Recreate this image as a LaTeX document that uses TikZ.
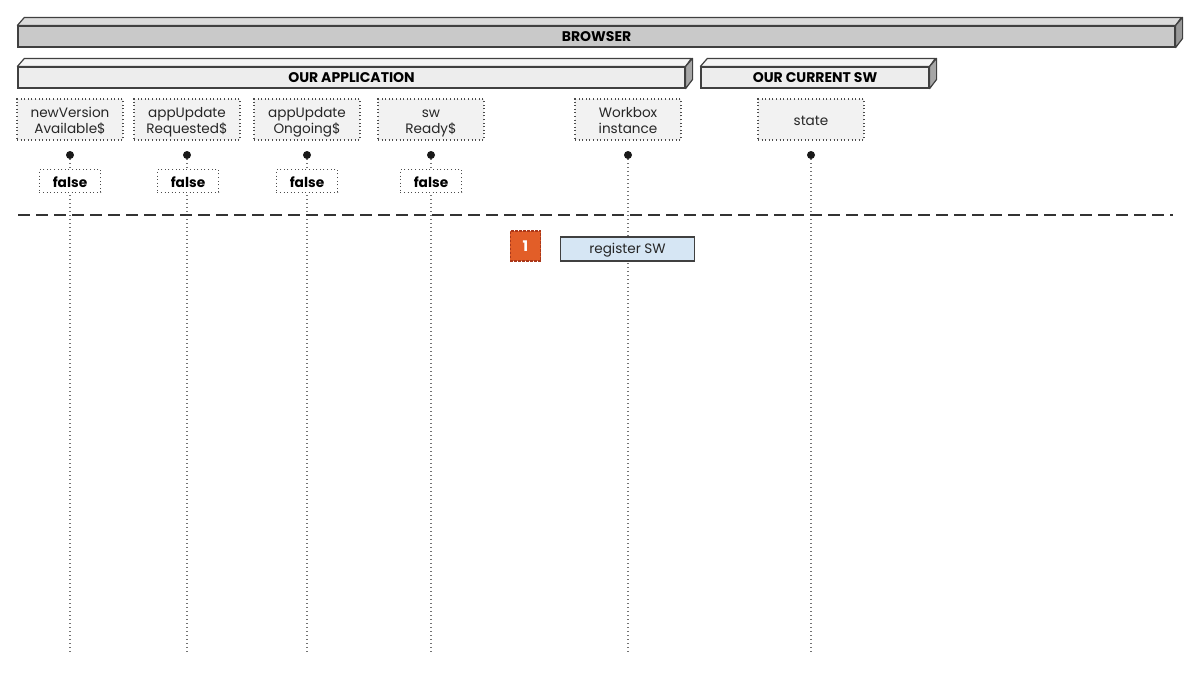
\documentclass[tikz,border=0pt]{standalone}
\usepackage{fontspec}
\setmainfont{Poppins}
\definecolor{regfill}{RGB}{214,230,244}
\definecolor{stepfill}{RGB}{226,94,40}
\definecolor{stepline}{RGB}{170,55,25}
\newcommand{\twoline}[2]{\raisebox{-2.4pt}[\height][\depth]{\begin{tabular}{@{}c@{}}#1\\#2\end{tabular}}}
\newcommand{\dn}[2]{\raisebox{-#1}[\height][\depth]{#2}}
\begin{document}
\begin{tikzpicture}[x=0.75pt,y=-0.75pt,
  font=\fontsize{10.2}{12}\selectfont,
  barface/.style={draw=black!75,line width=0.9pt,inner sep=0pt,font=\fontsize{10.5}{12}\selectfont\bfseries},
  hdr/.style={draw=black!70,fill=black!5,dash pattern=on 0.8pt off 1.9pt,line width=0.9pt,
    minimum width=79.5pt,minimum height=30.75pt,inner sep=0pt,align=center,text=black!85,
    font=\fontsize{10.2}{12}\selectfont},
  falsebox/.style={draw=black!70,fill=white,dash pattern=on 0.8pt off 1.9pt,line width=0.9pt,
    minimum width=46pt,minimum height=17pt,inner sep=0pt,font=\fontsize{10.3}{12}\selectfont\bfseries},
  dotnode/.style={circle,fill=black!90,inner sep=0pt,minimum size=6pt},
  lifeline/.style={draw=black!55,line width=1pt,dash pattern=on 0.8pt off 2.2pt},
  action/.style={draw=black!75,fill=regfill,line width=0.9pt,minimum width=101pt,minimum height=18pt,inner sep=0pt,text=black!85,font=\fontsize{10.2}{12}\selectfont},
  stepmark/.style={draw=stepline,fill=stepfill,dash pattern=on 2pt off 1pt,line width=0.9pt,minimum width=23pt,minimum height=22.5pt,inner sep=0pt,text=white,font=\fontsize{11}{12}\selectfont\bfseries}
]
\useasboundingbox (0,0) rectangle (1200,672);
% BROWSER bar
\node[barface,fill=black!21,minimum width=867.75pt,minimum height=15.75pt] (browser) at (596.5,36.5) {\dn{0.4pt}{BROWSER}};
\filldraw[draw=black!75,fill=black!14,line width=0.9pt,line join=round] (browser.north west) -- ++(7,-8) -- ++(1157,0) -- (browser.north east) -- cycle;
\filldraw[draw=black!75,fill=black!40,line width=0.9pt,line join=round] (browser.north east) -- ++(7,-8) -- ++(0,21) -- (browser.south east) -- cycle;
% OUR APPLICATION bar
\node[barface,fill=black!7,minimum width=500.25pt,minimum height=15.75pt] (app) at (351.5,77.5) {\dn{0.4pt}{OUR APPLICATION}};
\filldraw[draw=black!75,fill=black!4,line width=0.9pt,line join=round] (app.north west) -- ++(7,-8) -- ++(667,0) -- (app.north east) -- cycle;
\filldraw[draw=black!75,fill=black!35,line width=0.9pt,line join=round] (app.north east) -- ++(7,-8) -- ++(0,21) -- (app.south east) -- cycle;
% OUR CURRENT SW bar
\node[barface,fill=black!7,minimum width=171pt,minimum height=15.75pt] (sw) at (815,77.5) {\dn{0.4pt}{OUR CURRENT SW}};
\filldraw[draw=black!75,fill=black!4,line width=0.9pt,line join=round] (sw.north west) -- ++(7,-8) -- ++(228,0) -- (sw.north east) -- cycle;
\filldraw[draw=black!75,fill=black!35,line width=0.9pt,line join=round] (sw.north east) -- ++(7,-8) -- ++(0,21) -- (sw.south east) -- cycle;
% headers
\node[hdr] (h1) at (70,119.5) {\twoline{newVersion}{Available\$}};
\node[hdr] (h2) at (187,119.5) {\twoline{appUpdate}{Requested\$}};
\node[hdr] (h3) at (307,119.5) {\twoline{appUpdate}{Ongoing\$}};
\node[hdr] (h4) at (431,119.5) {\twoline{sw}{Ready\$}};
\node[hdr] (h5) at (628,119.5) {\twoline{Workbox}{instance}};
\node[hdr] (h6) at (811,119.5) {\dn{1.3pt}{state}};
% dots
\node[dotnode] (d1) at (70,155) {};
\node[dotnode] (d2) at (187,155) {};
\node[dotnode] (d3) at (307,155) {};
\node[dotnode] (d4) at (431,155) {};
\node[dotnode] (d5) at (628,155) {};
\node[dotnode] (d6) at (811,155) {};
% lifeline ends
\coordinate (e1) at (70,652);
\coordinate (e2) at (187,652);
\coordinate (e3) at (307,652);
\coordinate (e4) at (431,652);
\coordinate (e5) at (628,652);
\coordinate (e6) at (811,652);
\foreach \i in {1,...,6}{\draw[lifeline] (d\i) -- (e\i);}
% false boxes
\node[falsebox] (f1) at (70,181) {\dn{1pt}{false}};
\node[falsebox] (f2) at (188,181) {\dn{1pt}{false}};
\node[falsebox] (f3) at (307,181) {\dn{1pt}{false}};
\node[falsebox] (f4) at (431,181) {\dn{1pt}{false}};
% separator
\coordinate (s1) at (18,215);
\coordinate (s2) at (1173,215);
\draw[black!80,line width=1.1pt,dash pattern=on 9pt off 4.5pt] (s1) -- (s2);
% step 1
\node[stepmark] (n1) at (525.5,246) {1};
\node[action] (reg) at (627.5,249) {\dn{1.1pt}{register SW}};
\end{tikzpicture}
\end{document}
